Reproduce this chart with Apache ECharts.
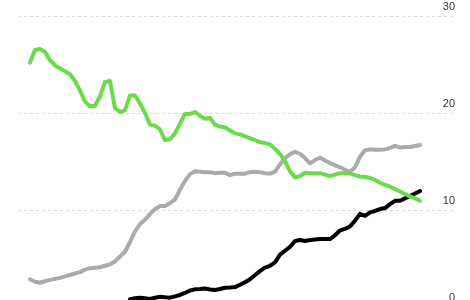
<!DOCTYPE html>
<html>
<head>
<meta charset="utf-8">
<script src="https://cdn.jsdelivr.net/npm/echarts@6/dist/echarts.min.js"></script>
<style>
html,body{margin:0;padding:0;background:#fff;}
#c{width:470px;height:300px;}
</style>
</head>
<body>
<div id="c"></div>
<script>
// Values, one sample per step (index 0..78)
var greenValues = [25.2,26.5,26.6,26.3,25.45,24.9,24.6,24.3,24.0,23.3,22.3,21.2,20.7,20.75,21.7,23.2,23.3,20.5,20.1,20.3,21.8,21.8,21.0,20.0,18.8,18.7,18.3,17.2,17.3,17.9,18.9,19.9,19.9,20.1,19.7,19.4,19.5,18.8,18.6,18.5,18.2,17.9,17.8,17.6,17.4,17.2,17.0,16.9,16.75,16.3,15.8,15.0,14.0,13.35,13.5,13.85,13.8,13.8,13.8,13.65,13.5,13.65,13.8,13.8,13.75,13.6,13.45,13.4,13.3,13.1,12.8,12.6,12.4,12.15,11.9,11.65,11.4,11.2,10.95];
var grayValues = [2.86,2.6,2.5,2.65,2.8,2.9,3.0,3.15,3.3,3.45,3.6,3.85,4.0,4.05,4.1,4.25,4.4,4.7,5.2,5.7,6.7,7.8,8.55,9.0,9.6,10.1,10.4,10.4,10.7,11.1,12.1,13.0,13.7,14.0,13.95,13.9,13.9,13.8,13.85,13.85,13.6,13.75,13.75,13.75,13.9,13.95,13.9,13.8,13.75,13.95,14.7,15.35,15.75,16.0,15.8,15.35,14.8,15.15,15.4,15.1,14.85,14.6,14.4,14.15,13.95,14.4,15.5,16.15,16.25,16.2,16.2,16.25,16.4,16.6,16.45,16.5,16.5,16.6,16.7];
var blackStart = 20;
var blackValues = [0.8,0.9,0.96,0.9,0.82,0.95,1.06,1.0,0.96,1.1,1.24,1.45,1.7,1.82,1.85,1.9,1.8,1.75,1.85,1.98,2.0,2.05,2.3,2.55,2.86,3.3,3.7,4.05,4.25,4.6,5.4,5.8,6.2,6.8,6.9,6.8,6.9,6.95,7.0,7.0,7.0,7.4,7.9,8.05,8.3,8.9,9.6,9.4,9.75,9.9,10.1,10.2,10.6,10.95,10.95,11.2,11.45,11.7,11.95];
var yTicks = [0,10,20,30];

function pairs(vals, start){
  var out = [];
  for (var i = 0; i < vals.length; i++) out.push([start + i, vals[i]]);
  return out;
}

var chart = echarts.init(document.getElementById('c'), null, {renderer:'canvas'});
var lineBase = {type:'line', showSymbol:false, symbol:'none', smooth:false, animation:false,
  lineStyle:{width:4, cap:'round', join:'round'}};
chart.setOption({
  animation:false,
  backgroundColor:'#ffffff',
  grid:{left:18, width:437, top:16, height:291, containLabel:false, outerBoundsMode:'none'},
  xAxis:{type:'value', min:-2.4, max:85, show:false},
  yAxis:{type:'value', position:'right', min:yTicks[0], max:yTicks[yTicks.length-1], interval:10,
    axisLine:{show:false}, axisTick:{show:false},
    splitLine:{show:true, lineStyle:{type:[3,3], color:'#d9d9d9', width:1}},
    axisLabel:{inside:true, margin:0, align:'right', verticalAlign:'bottom', lineHeight:18,
      color:'#333', fontSize:11, fontFamily:'Helvetica, Arial, "Liberation Sans", sans-serif'}
  },
  series:[
    Object.assign({}, lineBase, {name:'gray', data:pairs(grayValues,0), itemStyle:{color:'#aaaaaa'}, lineStyle:Object.assign({}, lineBase.lineStyle, {color:'#aaaaaa'})}),
    Object.assign({}, lineBase, {name:'black', data:pairs(blackValues,blackStart), itemStyle:{color:'#000'}, lineStyle:Object.assign({}, lineBase.lineStyle, {color:'#000000'})}),
    Object.assign({}, lineBase, {name:'green', data:pairs(greenValues,0), itemStyle:{color:'#6bdb4b'}, lineStyle:Object.assign({}, lineBase.lineStyle, {color:'#6bdb4b'})})
  ]
});
</script>
</body>
</html>
